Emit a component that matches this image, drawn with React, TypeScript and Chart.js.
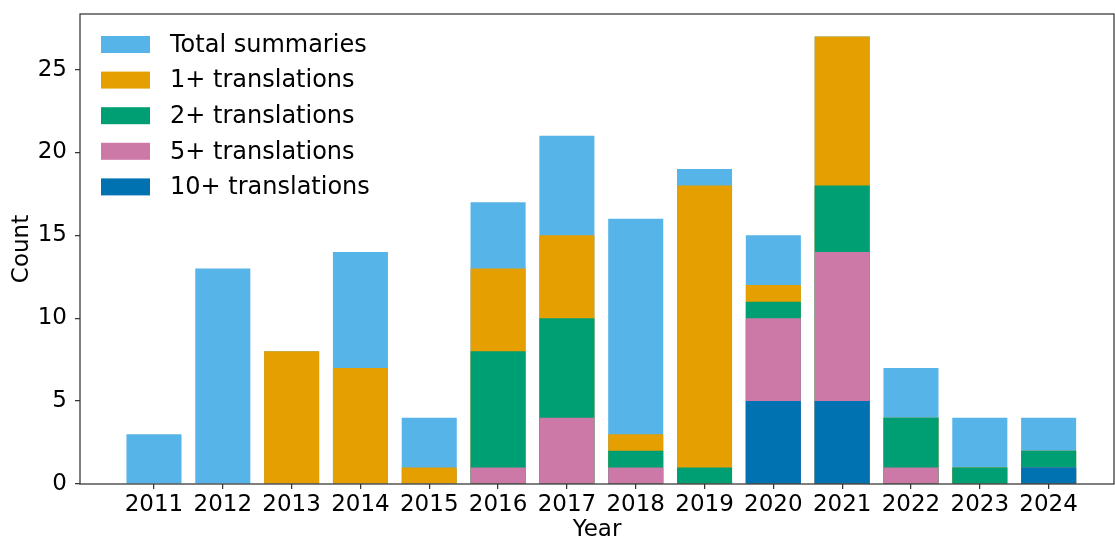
import React, { useEffect, useRef } from "react";
import { Chart, registerables } from "chart.js";

Chart.register(...registerables);

const years = [2011, 2012, 2013, 2014, 2015, 2016, 2017, 2018, 2019, 2020, 2021, 2022, 2023, 2024];
const totalSummaries = [3, 13, 8, 14, 4, 17, 21, 16, 19, 15, 27, 7, 4, 4];
const plus1 = [0, 0, 8, 7, 1, 13, 15, 3, 18, 12, 27, 4, 1, 2];
const plus2 = [0, 0, 0, 0, 0, 8, 10, 2, 1, 11, 18, 4, 1, 2];
const plus5 = [0, 0, 0, 0, 0, 1, 4, 1, 0, 10, 14, 1, 0, 1];
const plus10 = [0, 0, 0, 0, 0, 0, 0, 0, 0, 5, 5, 0, 0, 1];
const seriesLabels = ["Total summaries", "1+ translations", "2+ translations", "5+ translations", "10+ translations"];
const seriesColors = ["#56B4E9", "#E69F00", "#009E73", "#CC79A7", "#0072B2"];
const yTicks = [0, 5, 10, 15, 20, 25];

const FONT = "'DejaVu Sans', sans-serif";

export default function App() {
  const ref = useRef<HTMLCanvasElement | null>(null);
  useEffect(() => {
    document.body.style.margin = "0";
    const seriesValues = [totalSummaries, plus1, plus2, plus5, plus10];
    const datasets = seriesValues.map((vals, i) => ({
      label: seriesLabels[i],
      data: years.map((y, j) => ({ x: y, y: vals[j] })),
      backgroundColor: seriesColors[i],
      borderWidth: 0,
      barPercentage: 0.8,
      categoryPercentage: 1,
      grouped: false,
      order: 10 - i,
    }));

    const framePlugin = {
      id: "frame",
      afterDraw(chart: any) {
        const { ctx, chartArea } = chart;
        ctx.save();
        ctx.strokeStyle = "#333";
        ctx.lineWidth = 1.25;
        ctx.strokeRect(chartArea.left, chartArea.top, chartArea.right - chartArea.left, chartArea.bottom - chartArea.top);
        // legend
        const x0 = chartArea.left + 21;
        let y = chartArea.top + 30.5;
        ctx.font = `24px ${FONT}`;
        ctx.textBaseline = "middle";
        ctx.textAlign = "left";
        seriesLabels.forEach((lab, i) => {
          ctx.fillStyle = seriesColors[i];
          ctx.fillRect(x0, y - 8.5, 49, 17);
          ctx.fillStyle = "#000";
          ctx.fillText(lab, x0 + 69, y + 1);
          y += 35.6;
        });
        ctx.restore();
      },
    };

    const chart = new Chart(ref.current as HTMLCanvasElement, {
      type: "bar",
      data: { datasets: datasets as any },
      plugins: [framePlugin],
      options: {
        responsive: false,
        animation: false,
        layout: { padding: { top: 14, right: 1, left: 0, bottom: 0 } },
        plugins: { legend: { display: false }, tooltip: { enabled: false } },
        scales: {
          x: {
            type: "linear",
            min: 2009.925,
            max: 2024.95,
            offset: false,
            grid: { drawOnChartArea: false, offset: false, tickLength: 5, color: "#333", lineWidth: 1.25 },
            border: { display: false },
            afterBuildTicks: (s: any) => {
              s.ticks = years.map((v) => ({ value: v }));
            },
            afterFit: (s: any) => {
              s.height = 58;
              s.paddingLeft = 0;
              s.paddingRight = 0;
            },
            ticks: {
              autoSkip: false,
              maxRotation: 0,
              color: "#000",
              padding: 2,
              font: { family: FONT, size: 23 },
              callback: (v: any) => String(v),
            },
            title: {
              display: true,
              text: "Year",
              color: "#000",
              font: { family: FONT, size: 23 },
              padding: { top: 0, bottom: -2 },
            },
          },
          y: {
            min: 0,
            max: 28.35,
            grid: { drawOnChartArea: false, tickLength: 5, color: "#333", lineWidth: 1.25 },
            border: { display: false },
            afterBuildTicks: (s: any) => {
              s.ticks = yTicks.map((v) => ({ value: v }));
            },
            afterFit: (s: any) => {
              s.width = 80;
              s.paddingTop = 0;
              s.paddingBottom = 0;
            },
            ticks: {
              color: "#000",
              padding: 8,
              font: { family: FONT, size: 23 },
            },
            title: {
              display: true,
              text: "Count",
              color: "#000",
              font: { family: FONT, size: 23 },
              padding: { top: 8, bottom: 0 },
            },
          },
        },
      },
    });
    return () => chart.destroy();
  }, []);
  return (
    <div style={{ width: 1115, height: 542 }}>
      <canvas ref={ref} width={1115} height={542} style={{ display: "block" }} />
    </div>
  );
}
